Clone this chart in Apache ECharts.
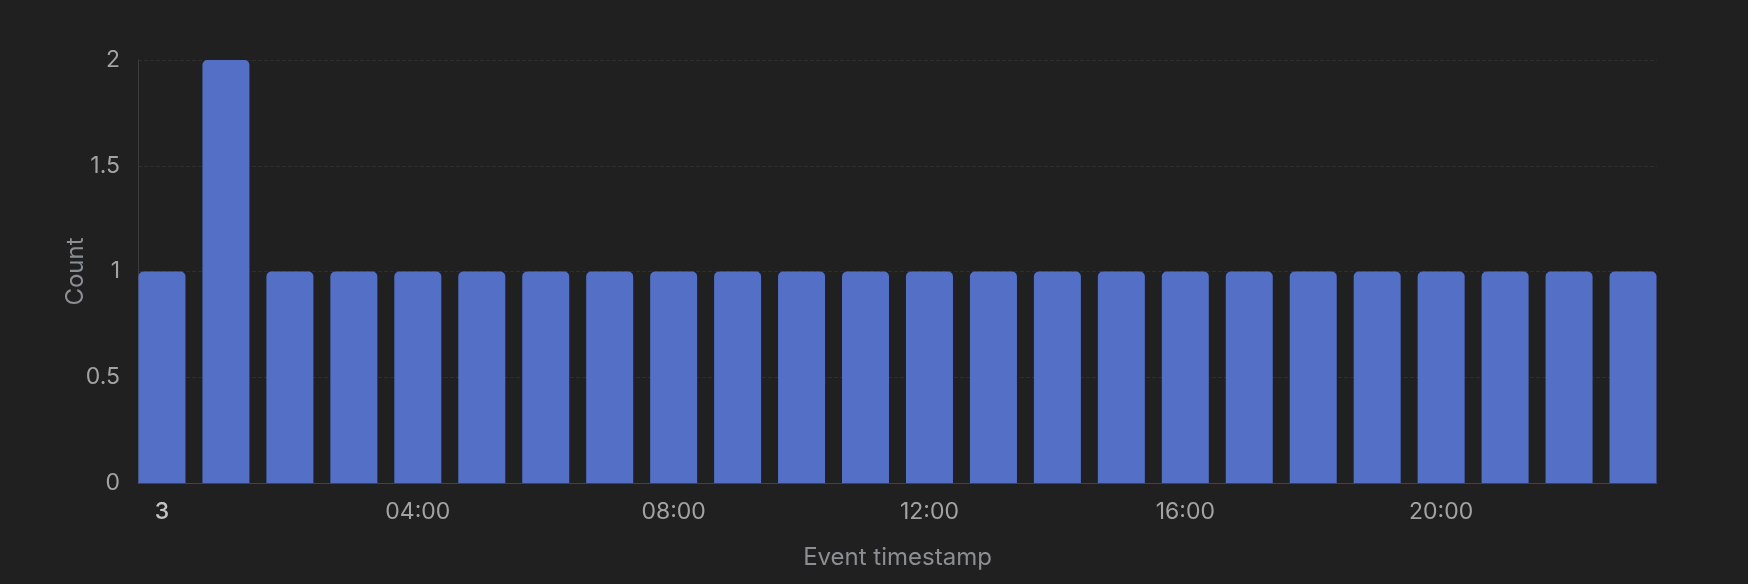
<!DOCTYPE html>
<html>
<head>
<meta charset="utf-8">
<script src="https://cdn.jsdelivr.net/npm/echarts@6/dist/echarts.min.js"></script>
<style>
  html, body { margin: 0; padding: 0; background: #202020; }
  #chart { width: 1748px; height: 584px; }
</style>
</head>
<body>
<div id="chart"></div>
<script>
// hour of day for each bucket, and the event count in it
const hours = [0, 1, 2, 3, 4, 5, 6, 7, 8, 9, 10, 11, 12, 13, 14, 15, 16, 17, 18, 19, 20, 21, 22, 23];
const counts = [1, 2, 1, 1, 1, 1, 1, 1, 1, 1, 1, 1, 1, 1, 1, 1, 1, 1, 1, 1, 1, 1, 1, 1];

// x tick positions (hours) and their labels
const tickValues = [0, 4, 8, 12, 16, 20];
const tickLabels = ['3', '04:00', '08:00', '12:00', '16:00', '20:00'];

const chart = echarts.init(document.getElementById('chart'));

const labelColor = '#a3a3a3';
const nameColor = '#8b8e93';
const font = 'Inter, "Noto Sans", sans-serif';

const option = {
  backgroundColor: '#202020',
  animation: false,
  grid: { left: 138, right: 91, top: 60, bottom: 101 },
  xAxis: {
    type: 'value',
    min: -0.375,
    max: 23.375,
    name: 'Event timestamp',
    nameLocation: 'middle',
    nameGap: 63,
    nameTextStyle: { color: nameColor, fontSize: 24, fontFamily: font },
    axisLine: { show: true, lineStyle: { color: '#434343' } },
    axisTick: { show: false },
    splitLine: { show: false },
    axisLabel: {
      customValues: tickValues,
      color: labelColor,
      fontSize: 23,
      fontFamily: font,
      margin: 18,
      formatter: function (v) {
        const i = tickValues.indexOf(v);
        const t = i >= 0 ? tickLabels[i] : '';
        return i === 0 ? '{b|' + t + '}' : t;
      },
      rich: {
        b: { fontWeight: 500, color: '#c4c4c4', fontSize: 23, fontFamily: font }
      }
    }
  },
  yAxis: {
    type: 'value',
    min: 0,
    max: 2,
    interval: 0.5,
    name: 'Count',
    nameLocation: 'middle',
    nameGap: 50,
    nameMoveOverlap: false,
    nameTextStyle: { color: nameColor, fontSize: 24, fontFamily: font },
    axisLine: { show: true, onZero: false, lineStyle: { color: '#3c3c3c' } },
    axisTick: { show: false },
    axisLabel: { color: labelColor, fontSize: 23, fontFamily: font, margin: 18 },
    splitLine: { show: true, lineStyle: { color: '#2e2e2e', type: 'dashed' } }
  },
  series: [{
    type: 'bar',
    data: hours.map((h, i) => [h, counts[i]]),
    barWidth: 47,
    itemStyle: { color: '#5470c6', borderRadius: [5, 5, 0, 0] }
  }]
};

chart.setOption(option);
</script>
</body>
</html>
